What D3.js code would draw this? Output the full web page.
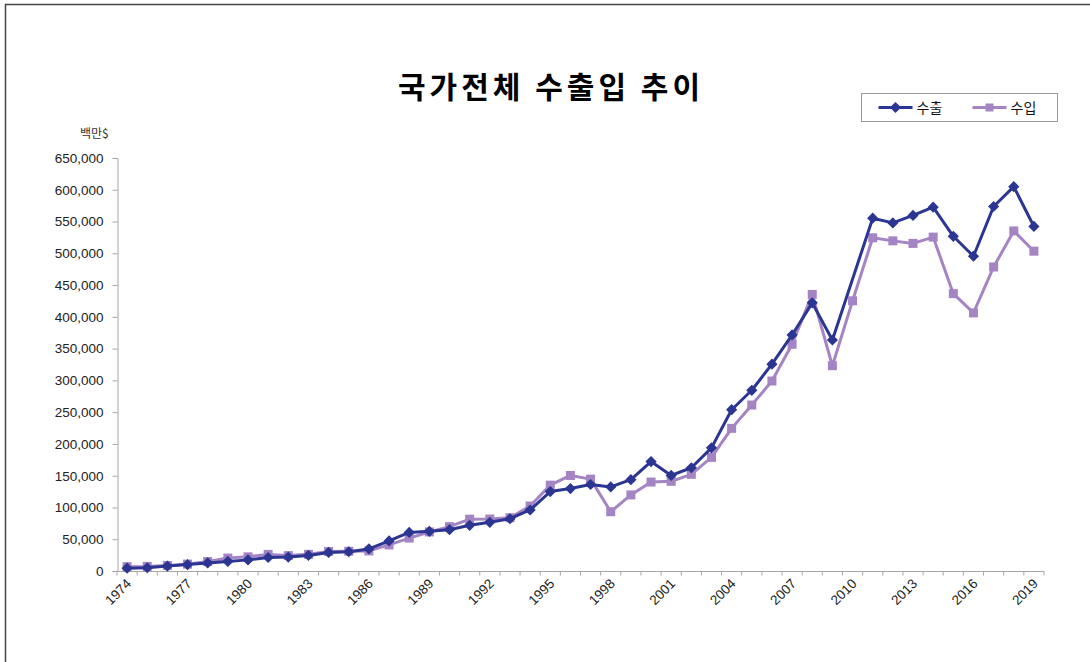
<!DOCTYPE html>
<html>
<head>
<meta charset="utf-8">
<script src="https://cdn.jsdelivr.net/npm/d3@7"></script>
<style>
  body { margin: 0; background: #fff; }
  svg { display: block; font-family: "Liberation Sans", Arial, sans-serif; }
</style>
</head>
<body>
<div id="vis"></div>
<script>
// 국가전체 수출입 추이 (백만$)
const years = d3.range(1974, 2020).map(String)

const exportsData = [4460, 5081, 7715, 10046, 12711, 15055, 17505, 21254, 21853, 24445,
  29245, 30283, 34715, 47281, 60696, 62377, 65016, 71870, 76632, 82236,
  96013, 125058, 129715, 136164, 132313, 143685, 172268, 150439, 162471, 193817,
  253845, 284419, 325465, 371489, 422007, 363534, null, 555214, 547870, 559632,
  572665, 526757, 495426, 573694, 604860, 542233]

const importsData = [6852, 7274, 8774, 10811, 14972, 20339, 22292, 26131, 24251, 26192,
  30631, 31136, 31584, 41020, 51811, 61465, 69844, 81525, 81775, 83800,
  102348, 135119, 150339, 144616, 93282, 119752, 140000, 141098, 152126, 178827,
  224463, 261238, 299000, 356846, 435275, 323085, 425212, 524413, 519584, 515586,
  525515, 436499, 406193, 478478, 535202, 503343]

const yTicks = d3.range(0, 650001, 50000)
const labelYears = years.filter((d, i) => i % 3 === 0)

const seriesNames = ['수출', '수입']
const colors = {'수출': '#2B3592', '수입': '#A584C4'}

const W = 1090, H = 662

let svg = d3.select('#vis')
    .append('svg')
    .attr('width', W)
    .attr('height', H)

// outer frame
svg.append('rect')
    .attr('x', 5.5).attr('y', 4.5)
    .attr('width', 1200).attr('height', 800)
    .attr('fill', 'none')
    .attr('stroke', '#444')
    .attr('stroke-width', 1.5)

let x = d3.scaleBand(years, [117, 1044]).padding(0)
let y = d3.scaleLinear([0, 650000], [571, 158])
let cx = d => x(d) + x.bandwidth() / 2

// title
svg.append('text')
    .attr('x', 551).attr('y', 98)
    .attr('text-anchor', 'middle')
    .attr('font-family', '"Noto Sans CJK KR", sans-serif')
    .attr('font-weight', 'bold')
    .attr('font-size', 30)
    .attr('letter-spacing', 4)
    .attr('fill', '#000')
    .text('국가전체 수출입 추이')

// unit
svg.append('text')
    .attr('x', 80).attr('y', 138)
    .attr('font-family', '"Noto Sans CJK KR", sans-serif')
    .attr('font-size', 12)
    .attr('fill', '#333')
    .text('백만$')

// y axis
let yAxis = d3.axisLeft(y)
    .tickValues(yTicks)
    .tickFormat(d3.format(','))
    .tickSize(5)
    .tickPadding(9)

svg.append('g')
    .attr('transform', 'translate(117.5,0)')
    .call(yAxis)
    .call(g => g.select('.domain').attr('stroke', '#A6A6A6'))
    .call(g => g.selectAll('.tick line').attr('stroke', '#A6A6A6'))
    .call(g => g.selectAll('.tick text')
        .attr('font-size', 13.5)
        .attr('font-family', '"Liberation Sans", Arial, sans-serif')
        .attr('fill', '#222'))

// x axis (ticks between categories)
let xg = svg.append('g')
    .attr('transform', 'translate(0,571.5)')

xg.append('line')
    .attr('x1', 117).attr('x2', 1044)
    .attr('stroke', '#A6A6A6')

xg.selectAll('.xtick')
    .data(years.concat(['end']))
    .enter()
    .append('line')
    .attr('class', 'xtick')
    .attr('x1', d => d === 'end' ? 1044 : x(d))
    .attr('x2', d => d === 'end' ? 1044 : x(d))
    .attr('y1', 0).attr('y2', 4)
    .attr('stroke', '#A6A6A6')

xg.selectAll('.xlab')
    .data(labelYears)
    .enter()
    .append('text')
    .attr('class', 'xlab')
    .attr('transform', d => `translate(${cx(d) + 5},${13}) rotate(-45)`)
    .attr('text-anchor', 'end')
    .attr('font-size', 13.5)
    .attr('fill', '#222')
    .text(d => d)

// lines
let line = d3.line()
    .x(d => cx(d.year))
    .y(d => y(d.value))

function makeSeries(values){
    return years.map((yr, i) => ({year: yr, value: values[i]}))
        .filter(d => d.value != null)
}

let exp = makeSeries(exportsData)
let imp = makeSeries(importsData)

svg.append('path')
    .datum(imp)
    .attr('fill', 'none')
    .attr('stroke', colors['수입'])
    .attr('stroke-width', 3)
    .attr('stroke-linejoin', 'round')
    .attr('d', line)

svg.selectAll('.imp')
    .data(imp)
    .enter()
    .append('rect')
    .attr('class', 'imp')
    .attr('x', d => cx(d.year) - 4.5)
    .attr('y', d => y(d.value) - 4.5)
    .attr('width', 9).attr('height', 9)
    .attr('fill', colors['수입'])

svg.append('path')
    .datum(exp)
    .attr('fill', 'none')
    .attr('stroke', colors['수출'])
    .attr('stroke-width', 3)
    .attr('stroke-linejoin', 'round')
    .attr('d', line)

let diamond = d3.symbol().type(d3.symbolDiamond2).size(80)

svg.selectAll('.exp')
    .data(exp)
    .enter()
    .append('path')
    .attr('class', 'exp')
    .attr('d', diamond)
    .attr('transform', d => `translate(${cx(d.year)},${y(d.value)})`)
    .attr('fill', colors['수출'])

// legend
let legend = svg.append('g')
    .attr('transform', 'translate(861.5,93.5)')

legend.append('rect')
    .attr('width', 196).attr('height', 28)
    .attr('fill', '#fff')
    .attr('stroke', '#999')

let items = legend.selectAll('.item')
    .data(seriesNames)
    .enter()
    .append('g')
    .attr('transform', (d, i) => `translate(${17 + i * 94},14)`)

items.append('line')
    .attr('x1', 0).attr('x2', 34)
    .attr('stroke', d => colors[d])
    .attr('stroke-width', 3)

items.append('path')
    .attr('d', (d, i) => i === 0 ? diamond() : d3.symbol().type(d3.symbolSquare).size(64)())
    .attr('transform', 'translate(17,0)')
    .attr('fill', d => colors[d])

items.append('text')
    .attr('x', 38).attr('y', 5)
    .attr('font-family', '"Noto Sans CJK KR", sans-serif')
    .attr('font-size', 14)
    .attr('fill', '#111')
    .text(d => d)
</script>
</body>
</html>
